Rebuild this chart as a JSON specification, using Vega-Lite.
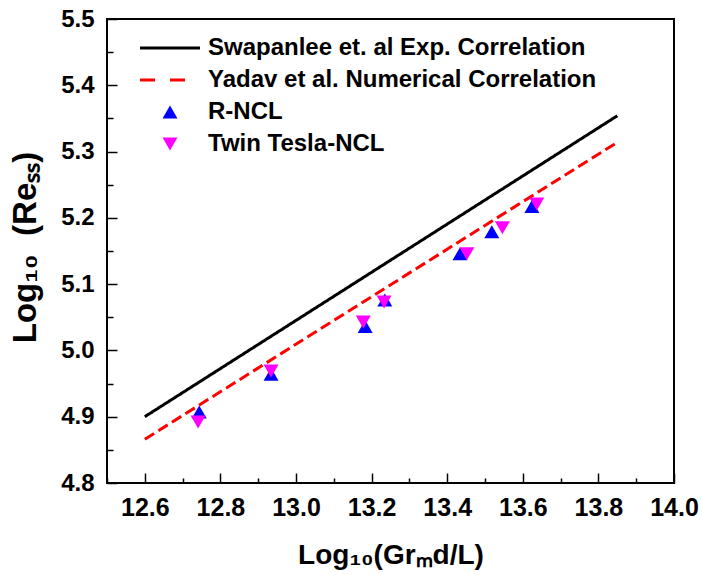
{
  "$schema": "https://vega.github.io/schema/vega-lite/v6.json",
  "width": 567,
  "height": 464,
  "autosize": "none",
  "padding": {"left": 107, "top": 19, "right": 28, "bottom": 92},
  "background": "white",
  "config": {
    "font": "Liberation Sans",
    "view": {"stroke": "black", "strokeWidth": 2},
    "axis": {"grid": false, "domain": false, "tickColor": "black", "tickWidth": 1.5, "labelColor": "black", "titleColor": "black", "labelFont": "Liberation Sans", "titleFont": "Liberation Sans", "labelFontWeight": "bold", "titleFontWeight": "bold"}
  },
  "datasets": {
    "correlations": [
      {"series": "Swapanlee et. al Exp. Correlation", "x": 12.6, "y": 4.9},
      {"series": "Swapanlee et. al Exp. Correlation", "x": 13.85, "y": 5.354},
      {"series": "Yadav et al. Numerical Correlation", "x": 12.6, "y": 4.866},
      {"series": "Yadav et al. Numerical Correlation", "x": 13.85, "y": 5.314}
    ],
    "ncl": [
      {"series": "R-NCL", "x": 12.744, "y": 4.907},
      {"series": "R-NCL", "x": 12.934, "y": 4.964},
      {"series": "R-NCL", "x": 13.183, "y": 5.036},
      {"series": "R-NCL", "x": 13.235, "y": 5.076},
      {"series": "R-NCL", "x": 13.434, "y": 5.146},
      {"series": "R-NCL", "x": 13.518, "y": 5.179},
      {"series": "R-NCL", "x": 13.624, "y": 5.217},
      {"series": "Twin Tesla-NCL", "x": 12.741, "y": 4.892},
      {"series": "Twin Tesla-NCL", "x": 12.934, "y": 4.969},
      {"series": "Twin Tesla-NCL", "x": 13.178, "y": 5.043},
      {"series": "Twin Tesla-NCL", "x": 13.233, "y": 5.073},
      {"series": "Twin Tesla-NCL", "x": 13.452, "y": 5.146},
      {"series": "Twin Tesla-NCL", "x": 13.546, "y": 5.185},
      {"series": "Twin Tesla-NCL", "x": 13.637, "y": 5.221}
    ]
  },
  "encoding": {
    "color": {
      "field": "series",
      "type": "nominal",
      "scale": {
        "domain": ["Swapanlee et. al Exp. Correlation", "Yadav et al. Numerical Correlation", "R-NCL", "Twin Tesla-NCL"],
        "range": ["#000000", "#ff0000", "#0000ff", "#ff00ff"]
      },
      "legend": {
        "orient": "none",
        "legendX": 51,
        "legendY": 17,
        "title": null,
        "labelFont": "Liberation Sans",
        "labelFontWeight": "bold",
        "labelFontSize": 24,
        "labelColor": "black",
        "labelLimit": 0,
        "labelOffset": 26,
        "rowPadding": 8,
        "symbolSize": 225,
        "symbolStrokeWidth": 3,
        "encoding": {
          "symbols": {
            "shape": {"value": {"expr": "datum.value === 'R-NCL' ? 'triangle-up' : datum.value === 'Twin Tesla-NCL' ? 'triangle-down' : 'M-4,0H4'"}},
            "fill": {"value": {"expr": "datum.value === 'R-NCL' ? '#0000ff' : datum.value === 'Twin Tesla-NCL' ? '#ff00ff' : 'transparent'"}},
            "stroke": {"value": {"expr": "datum.value === 'Swapanlee et. al Exp. Correlation' ? '#000000' : datum.value === 'Yadav et al. Numerical Correlation' ? '#ff0000' : 'transparent'"}},
            "strokeDash": {"value": {"expr": "datum.value === 'Yadav et al. Numerical Correlation' ? [15, 15] : []"}},
            "strokeWidth": {"value": {"expr": "datum.value === 'R-NCL' || datum.value === 'Twin Tesla-NCL' ? 0 : 3"}},
            "opacity": {"value": 1}
          }
        }
      }
    }
  },
  "resolve": {"axis": {"x": "independent", "y": "independent"}},
  "layer": [
    {
      "data": {"name": "correlations"},
      "mark": {"type": "line", "strokeWidth": 3},
      "encoding": {
        "x": {
          "field": "x", "type": "quantitative",
          "scale": {"domain": [12.5, 14.0], "nice": false, "zero": false},
          "axis": {
            "orient": "bottom",
            "values": [12.6, 12.8, 13.0, 13.2, 13.4, 13.6, 13.8, 14.0],
            "format": ".1f",
            "tickSize": -10,
            "labelPadding": 22,
            "labelFontSize": 25,
            "labelFontWeight": "bold",
            "labelFlush": false,
            "labelOverlap": false,
            "title": "Log₁₀(Grₘd/L)",
            "titleFontSize": 28,
            "titleFontWeight": "bold",
            "titlePadding": 21
          }
        },
        "y": {
          "field": "y", "type": "quantitative",
          "scale": {"domain": [4.8, 5.5], "nice": false, "zero": false},
          "axis": {
            "orient": "left",
            "values": [4.8, 4.9, 5.0, 5.1, 5.2, 5.3, 5.4, 5.5],
            "format": ".1f",
            "tickSize": -10,
            "labelPadding": 23,
            "labelFontSize": 24,
            "labelFontWeight": "bold",
            "labelFlush": false,
            "labelOverlap": false,
            "title": "Log₁₀ \u00a0(Reₛₛ)",
            "titleFontSize": 33,
            "titleFontWeight": "bold",
            "titleX": -82,
            "titleY": 228,
            "titleBaseline": "middle",
            "titleAlign": "center",
            "titleAngle": -90
          }
        },
        "strokeDash": {
          "field": "series", "type": "nominal",
          "scale": {"domain": ["Swapanlee et. al Exp. Correlation", "Yadav et al. Numerical Correlation"], "range": [[1, 0], [11, 5]]},
          "legend": null
        }
      }
    },
    {
      "data": {"name": "ncl"},
      "mark": {"type": "point", "filled": true, "size": 225, "opacity": 1, "strokeWidth": 0},
      "encoding": {
        "x": {
          "field": "x", "type": "quantitative",
          "axis": {
            "orient": "bottom",
            "values": [12.5, 12.7, 12.9, 13.1, 13.3, 13.5, 13.7, 13.9],
            "tickSize": -5,
            "labels": false,
            "title": null
          }
        },
        "y": {
          "field": "y", "type": "quantitative",
          "axis": {
            "orient": "left",
            "values": [4.85, 4.95, 5.05, 5.15, 5.25, 5.35, 5.45],
            "tickSize": -6,
            "labels": false,
            "title": null
          }
        },
        "shape": {
          "field": "series", "type": "nominal",
          "scale": {"domain": ["R-NCL", "Twin Tesla-NCL"], "range": ["triangle-up", "triangle-down"]},
          "legend": null
        }
      }
    }
  ]
}
